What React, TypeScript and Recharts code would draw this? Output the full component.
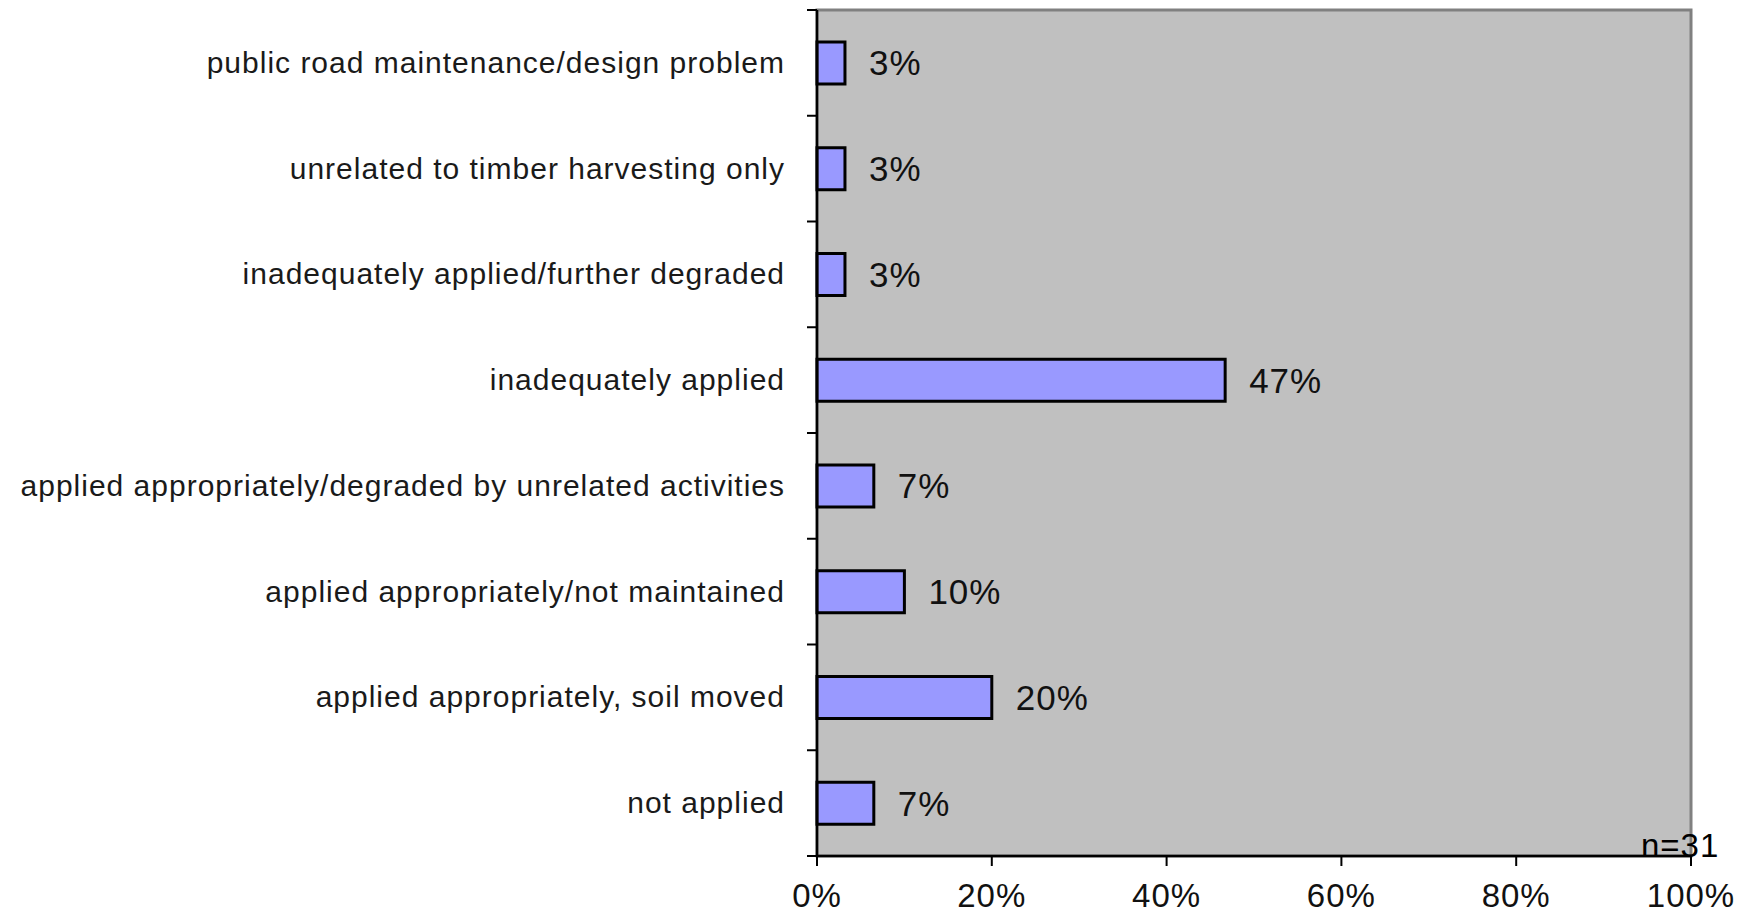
import { BarChart, Bar, XAxis, YAxis, LabelList, ReferenceArea } from "recharts"

const categories = [
  "public road maintenance/design problem",
  "unrelated to timber harvesting only",
  "inadequately applied/further degraded",
  "inadequately applied",
  "applied appropriately/degraded by unrelated activities",
  "applied appropriately/not maintained",
  "applied appropriately, soil moved",
  "not applied",
]

const percents = [3.2, 3.2, 3.2, 46.7, 6.5, 10, 20, 6.5]

const xTicks = [0, 20, 40, 60, 80, 100]

const sampleNote = "n=31"

const data = categories.map((name, i) => ({ name, value: percents[i] }))

const FONT = "'Liberation Sans', Arial, sans-serif"

// category ticks sit on the band edges, labels stay centred
function CategoryTick(props: any) {
  const { x, y, payload, index, visibleTicksCount } = props
  const half = payload?.offset ?? 0
  const axisX = x + 21
  return (
    <g>
      <line x1={axisX - 10} x2={axisX} y1={y - half} y2={y - half} stroke="#000" strokeWidth={2} />
      {index === visibleTicksCount - 1 && (
        <line x1={axisX - 10} x2={axisX} y1={y + half} y2={y + half} stroke="#000" strokeWidth={2} />
      )}
      <text
        x={x - 11}
        y={y}
        dy={10}
        textAnchor="end"
        fontSize={30}
        letterSpacing={1}
        fill="#1a1a1a"
        fontFamily={FONT}
      >
        {payload.value}
      </text>
    </g>
  )
}

export default function App() {
  return (
    <div style={{ position: "absolute", left: 0, top: 0, width: 1752, height: 916, background: "#fff" }}>
      <BarChart
        width={1752}
        height={916}
        data={data}
        layout="vertical"
        margin={{ top: 10, right: 61, left: 0, bottom: 0 }}
        barCategoryGap={0}
      >
        <ReferenceArea x1={0} x2={100} fill="#c0c0c0" fillOpacity={1} stroke="#808080" strokeWidth={3} ifOverflow="extendDomain" />
        <XAxis
          type="number"
          domain={[0, 100]}
          ticks={xTicks}
          tickFormatter={(v) => `${v}%`}
          height={60}
          tickSize={10}
          tickMargin={18}
          axisLine={{ stroke: "#000", strokeWidth: 2.5 }}
          tickLine={{ stroke: "#000", strokeWidth: 2 }}
          tick={{ fontSize: 33, fill: "#111", fontFamily: FONT, letterSpacing: 1 }}
          interval={0}
        />
        <YAxis
          type="category"
          dataKey="name"
          width={817}
          tickLine={false}
          tickSize={6}
          tickMargin={15}
          axisLine={{ stroke: "#000", strokeWidth: 2.5 }}
          tick={<CategoryTick />}
          interval={0}
        />
        <Bar dataKey="value" fill="#9999ff" stroke="#000" strokeWidth={3} barSize={42} isAnimationActive={false}>
          <LabelList
            dataKey="value"
            position="right"
            offset={24}
            formatter={(v: any) => `${Math.round(Number(v))}%`}
            style={{ fontSize: 35, fill: "#111", fontFamily: FONT, letterSpacing: 1 }}
          />
        </Bar>
      </BarChart>
      <div
        style={{
          position: "absolute",
          left: 1641,
          top: 829,
          fontSize: 33,
          fontFamily: FONT,
          color: "#000",
          lineHeight: "33px",
          letterSpacing: 1,
        }}
      >
        {sampleNote}
      </div>
    </div>
  )
}
